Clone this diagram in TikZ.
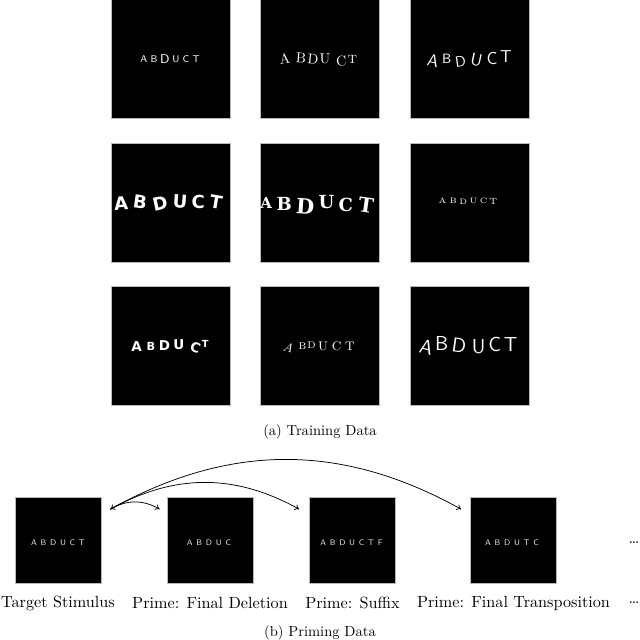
\documentclass[tikz,border=0pt]{standalone}
\usepackage{fontspec}
\usepackage{graphicx}
\usetikzlibrary{calc,arrows.meta}
\newfontfamily\djsans{DejaVu Sans}
\newfontfamily\djserif{DejaVu Serif}
\newcommand{\Lt}[3]{\raisebox{#2}{\rotatebox[origin=c]{#1}{#3}}}
\newcommand{\gp}[1]{\hspace{#1}}
\newcommand{\bs}{\hspace{2.5pt}}
\tikzset{
  sq/.style={fill=black, draw=gray!55, line width=0.4pt, minimum size=79.3pt, inner sep=0pt},
  bsq/.style={fill=black, draw=gray!55, line width=0.4pt, minimum size=57.3pt, inner sep=0pt},
  word/.style={text=white, inner sep=0pt, font=\sffamily},
  bword/.style={text=white!92!black, inner sep=0pt, font=\sffamily\fontsize{5.4}{6}\selectfont},
  lab/.style={inner sep=0pt, font=\fontsize{10.8}{13}\selectfont},
  captext/.style={inner sep=0pt, font=\fontsize{9.7}{12}\selectfont},
  arr/.style={line width=0.5pt, -{To[length=3pt,width=4pt]}},
}
\begin{document}
\begin{tikzpicture}[x=0.6667pt,y=-0.6667pt]
\useasboundingbox (0,0) rectangle (640,640);
% training grid
\node[sq] (g1) at (170.5,59) {};
\node[sq] (g2) at (320,59) {};
\node[sq] (g3) at (469.5,59) {};
\node[sq] (g4) at (170.5,202.5) {};
\node[sq] (g5) at (320,202.5) {};
\node[sq] (g6) at (469.5,202.5) {};
\node[sq] (g7) at (170.5,346) {};
\node[sq] (g8) at (320,346) {};
\node[sq] (g9) at (469.5,346) {};
% words
\node[word, font=\sffamily\fontsize{6.5}{7}\selectfont] (w1) at (170,59)
  {A\gp{2.2pt}B\gp{1.8pt}\Lt{0}{-0.6pt}{\fontsize{8.5}{9}\selectfont D}\gp{1.8pt}U\gp{2.2pt}C\gp{2.2pt}T};
\node[word, font=\rmfamily\fontsize{9.5}{10}\selectfont] (w2) at (318,60)
  {\Lt{8}{0pt}{A}\gp{3.2pt}\Lt{-4}{0.5pt}{B}\gp{0.5pt}\Lt{-6}{0pt}{D}\gp{0.5pt}U\gp{3.5pt}\Lt{5}{-1.5pt}{C}\gp{0.8pt}\Lt{0}{0.6pt}{\fontsize{8}{8}\selectfont T}};
\node[word, font=\sffamily\fontsize{11.5}{12}\selectfont] (w3) at (469,59)
  {\Lt{-12}{-1pt}{A}\gp{1.5pt}\Lt{0}{1pt}{\fontsize{9}{9}\selectfont B}\gp{2pt}\Lt{8}{-1pt}{\fontsize{10}{10}\selectfont D}\gp{2pt}\Lt{-12}{-0.5pt}{U}\gp{2.2pt}\Lt{0}{0.2pt}{C}\gp{1.8pt}\Lt{0}{1.5pt}{T}};
\node[word, font=\djsans\bfseries\fontsize{12}{12}\selectfont] (w4) at (168.5,203)
  {\Lt{4}{-0.5pt}{A}\gp{2.5pt}\Lt{-8}{0.6pt}{B}\gp{2.5pt}\Lt{12}{-0.8pt}{D}\gp{2.4pt}\Lt{-4}{1pt}{U}\gp{2.5pt}\Lt{0}{0.8pt}{C}\gp{2.7pt}\Lt{-10}{0.4pt}{T}};
\node[word, font=\djserif\bfseries\fontsize{12}{12}\selectfont] (w5) at (317.5,205)
  {\Lt{0}{1.5pt}{\fontsize{10}{10}\selectfont A}\gp{3pt}\Lt{0}{0.5pt}{B}\gp{2.5pt}\Lt{-4}{-1.8pt}{\fontsize{14}{14}\selectfont D}\gp{2.5pt}\Lt{0}{1.5pt}{U}\gp{3pt}\Lt{0}{0pt}{C}\gp{3pt}\Lt{-8}{-0.8pt}{\fontsize{13.5}{14}\selectfont T}};
\node[word, font=\rmfamily\fontsize{5.2}{6}\selectfont] (w6) at (468,201.5)
  {A\gp{2.2pt}\Lt{0}{0.3pt}{B}\gp{1.6pt}\Lt{0}{-0.6pt}{D}\gp{1.6pt}U\gp{1.8pt}C\gp{1.4pt}\Lt{0}{-0.3pt}{\fontsize{6}{6}\selectfont T}};
\node[word, font=\djsans\bfseries\fontsize{9}{9}\selectfont] (w7) at (170,347)
  {\Lt{0}{-1pt}{A}\gp{3.2pt}\Lt{0}{0pt}{\fontsize{7.5}{8}\selectfont B}\gp{2.4pt}\Lt{0}{-0.5pt}{D}\gp{2.2pt}\Lt{0}{0.3pt}{U}\gp{3.2pt}\Lt{-20}{-1.5pt}{C}\Lt{0}{1.8pt}{\fontsize{6.5}{7}\selectfont T}};
\node[word, font=\rmfamily\fontsize{8.3}{9}\selectfont] (w8) at (318.5,347)
  {\Lt{-15}{-0.8pt}{\itshape A}\gp{3pt}\Lt{0}{0.2pt}{\fontsize{6.5}{7}\selectfont B}\gp{0.6pt}\Lt{0}{1.2pt}{\fontsize{6.5}{7}\selectfont D}\gp{1.6pt}U\gp{2.5pt}C\gp{2.5pt}T};
\node[word, font=\sffamily\fontsize{13.5}{14}\selectfont] (w9) at (468,346)
  {\Lt{-14}{-1.5pt}{A}\gp{0.3pt}\Lt{0}{0.5pt}{B}\gp{2pt}\Lt{-8}{-0.5pt}{D}\gp{3pt}\Lt{0}{-1.5pt}{U}\gp{2pt}\Lt{0}{0.3pt}{C}\gp{2pt}\Lt{0}{0.3pt}{T}};
\node[captext] (capa) at (320,432) {(a) Training Data};
% priming data
\node[bsq] (t) at (58,540.5) {};
\node[bsq] (p1) at (210,540.5) {};
\node[bsq] (p2) at (352.5,540.5) {};
\node[bsq] (p3) at (513.5,540.5) {};
\node[bword] (tw) at (58,542.5) {A\bs B\bs D\bs U\bs C\bs T};
\node[bword] (p1w) at (209,542.5) {A\bs B\bs D\bs U\bs C};
\node[bword] (p2w) at (351.5,542.5) {A\bs B\bs D\bs U\bs C\bs T\bs F};
\node[bword] (p3w) at (512,542.5) {A\bs B\bs D\bs U\bs T\bs C};
\node[lab] (ell1) at (634,543) {\dots};
\node[lab] (tl) at (58,603) {Target Stimulus};
\node[lab] (p1l) at (210,603) {Prime: Final Deletion};
\node[lab] (p2l) at (352.5,603) {Prime: Suffix};
\node[lab] (p3l) at (513.5,603) {Prime: Final Transposition};
\node[lab] (ell2) at (634,603) {\dots};
\node[captext] (capb) at (320,633) {(b) Priming Data};
% arrows
\coordinate (s) at ($(t.north east)+(9,12)$);
\coordinate (e1) at ($(p1.north west)+(-7,12)$);
\coordinate (e2) at ($(p2.north west)+(-10,12)$);
\coordinate (e3) at ($(p3.north west)+(-9,12)$);
\draw[arr, {To[length=3pt,width=4pt]}-{To[length=3pt,width=4pt]}] (s) to[bend left=30] (e1);
\draw[arr] (s) to[bend left=29] (e2);
\draw[arr] (s) to[bend left=29] (e3);
\end{tikzpicture}
\end{document}
